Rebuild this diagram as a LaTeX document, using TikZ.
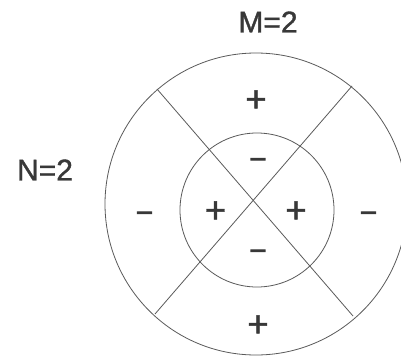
\documentclass[tikz,border=0pt]{standalone}
\usepackage{fontspec}
\setmainfont{Liberation Sans}
\newfontfamily\heavyfont[FakeBold=1.2]{Liberation Sans}
\newfontfamily\dashfont[FakeBold=4.5]{Liberation Sans}
\definecolor{ink}{HTML}{383838}
\definecolor{linec}{HTML}{5A5A5A}
\begin{document}
\begin{tikzpicture}[x=1pt,y=-1pt,
  lab/.style={text=ink,inner sep=0pt,font=\heavyfont\fontsize{30}{30}\selectfont},
  plus/.style={text=ink,inner sep=0pt,font=\heavyfont\fontsize{37}{37}\selectfont},
  minus/.style={text=ink,inner sep=0pt,font=\dashfont\fontsize{25}{25}\selectfont},
  ring/.style={draw=linec,line width=0.8pt},
  chord/.style={draw=linec,line width=0.8pt}]
\useasboundingbox (0,0) rectangle (401,356);
\fill[white] (0,0) rectangle (401,356);
% circles
\draw[ring] (256,204) circle[radius=151];
\draw[ring] (257,210) circle[radius=77];
% chords
\coordinate (a1) at (157,89);
\coordinate (a2) at (353,316);
\coordinate (b1) at (352,86);
\coordinate (b2) at (155,314);
\draw[chord] (a1) -- (a2);
\draw[chord] (b1) -- (b2);
% labels
\node[lab] (m) at (268,22) {M=2};
\node[lab] (n) at (45,170) {N=2};
% signs
\node[plus] (p1) at (256,101) {+};
\node[plus] (p2) at (258,326) {+};
\node[plus] (p3) at (215.5,212) {+};
\node[plus] (p4) at (296,212) {+};
\node[minus] (q1) at (258,162) {–};
\node[minus] (q2) at (258,253.5) {–};
\node[minus] (q3) at (144.5,215.5) {–};
\node[minus] (q4) at (368.5,215.5) {–};
\end{tikzpicture}
\end{document}
